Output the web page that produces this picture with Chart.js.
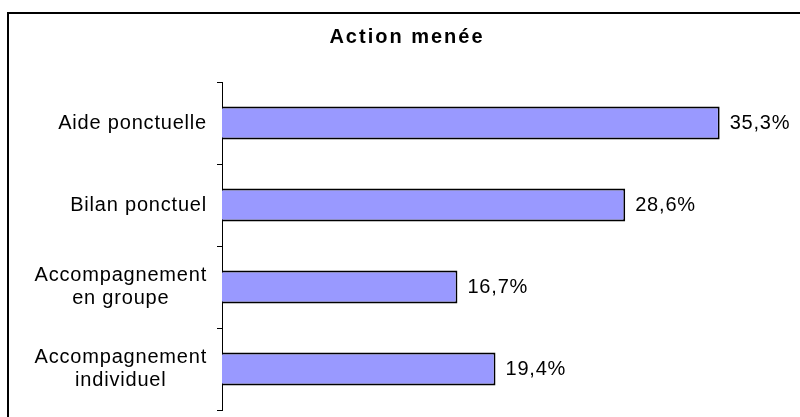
<!DOCTYPE html>
<html>
<head>
<meta charset="utf-8">
<script src="https://cdn.jsdelivr.net/npm/chart.js@4"></script>
<style>
  body { margin: 0; background: #fff; }
  #wrap { width: 800px; height: 417px; }
</style>
</head>
<body>
<div id="wrap"><canvas id="myChart"></canvas></div>
<script>
var titleText = "Action menée";
var categories = [["Aide ponctuelle"], ["Bilan ponctuel"], ["Accompagnement", "en groupe"], ["Accompagnement", "individuel"]];
var values = [35.3, 28.6, 16.7, 19.4];
var barColor = "#9999FF";
var fontFamily = "'Liberation Sans', Arial, sans-serif";

// letter spacing like the original, and the frame round the chart
var framePlugin = {
  id: "frame",
  beforeDraw: function(chart) {
    chart.ctx.letterSpacing = "2px";
  },
  afterDraw: function(chart) {
    var ctx = chart.ctx;
    ctx.save();
    ctx.strokeStyle = "#000";
    ctx.lineWidth = 2;
    ctx.strokeRect(8, 13, 1000, 1000);
    ctx.restore();
  }
};

// category names, centered on their widest line, right side at the axis
var labelPlugin = {
  id: "catLabels",
  afterDraw: function(chart) {
    var ctx = chart.ctx;
    var yScale = chart.scales.y;
    ctx.save();
    ctx.letterSpacing = "0.8px";
    ctx.font = "20px " + fontFamily;
    ctx.fillStyle = "#000";
    ctx.textAlign = "center";
    ctx.textBaseline = "middle";
    var lineH = 23;
    categories.forEach(function(lines, i) {
      var widest = 0;
      lines.forEach(function(l) {
        widest = Math.max(widest, ctx.measureText(l).width);
      });
      var cx = yScale.right - 15 - widest / 2;
      var y0 = yScale.getPixelForValue(i) - (lines.length - 1) * lineH / 2;
      lines.forEach(function(l, k) {
        ctx.fillText(l, cx, y0 + k * lineH);
      });
    });
    ctx.restore();
  }
};

// value at the end of each bar
var valuePlugin = {
  id: "values",
  afterDatasetsDraw: function(chart) {
    var ctx = chart.ctx;
    var meta = chart.getDatasetMeta(0);
    ctx.save();
    ctx.letterSpacing = "0.8px";
    ctx.font = "20px " + fontFamily;
    ctx.fillStyle = "#000";
    ctx.textAlign = "left";
    ctx.textBaseline = "middle";
    meta.data.forEach(function(bar, i) {
      var txt = values[i].toFixed(1).replace(".", ",") + "%";
      ctx.fillText(txt, bar.x + 10, bar.y);
    });
    ctx.restore();
  }
};

new Chart("myChart", {
  type: "bar",
  data: {
    labels: categories,
    datasets: [{
      data: values,
      backgroundColor: barColor,
      borderColor: "#000",
      borderWidth: 1.8,
      barPercentage: 0.4,
      categoryPercentage: 1
    }]
  },
  options: {
    indexAxis: "y",
    responsive: true,
    maintainAspectRatio: false,
    animation: false,
    layout: { padding: { left: 14, right: 0, top: 0, bottom: 7 } },
    plugins: {
      legend: { display: false },
      tooltip: { enabled: false },
      title: {
        display: true,
        text: titleText,
        color: "#000",
        font: { family: fontFamily, size: 20, weight: "bold", lineHeight: 1.2 },
        padding: { top: 25, bottom: 33 }
      }
    },
    scales: {
      x: {
        display: false,
        min: 0,
        max: 41
      },
      y: {
        ticks: { display: false },
        grid: {
          drawOnChartArea: false,
          drawTicks: true,
          tickLength: 5,
          color: "#000"
        },
        border: { display: true, color: "#000", width: 1 },
        afterFit: function(scale) {
          scale.width = 208;
        }
      }
    }
  },
  plugins: [framePlugin, labelPlugin, valuePlugin]
});
</script>
</body>
</html>
